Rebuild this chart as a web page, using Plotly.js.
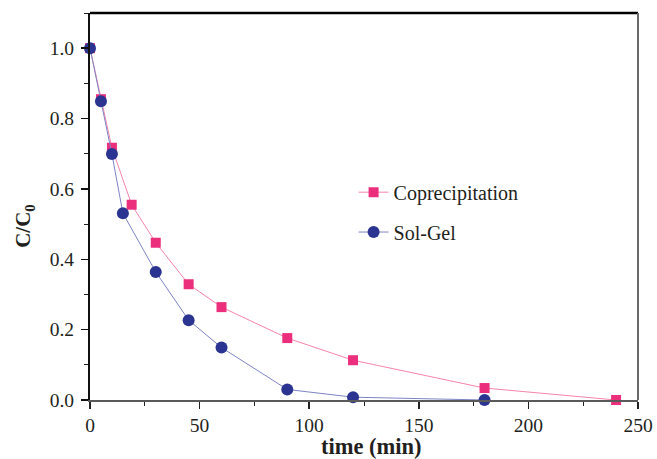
<!DOCTYPE html>
<html>
<head>
<meta charset="utf-8">
<script src="https://cdn.plot.ly/plotly-3.0.1.min.js"></script>
<style>html,body{margin:0;padding:0;background:#fff}#chart{width:657px;height:459px}</style>
</head>
<body>
<div id="chart"></div>
<script>
// Data
var coprecipTime = [0, 5, 10, 19, 30, 45, 60, 90, 120, 180, 240];
var coprecipC = [1.0, 0.855, 0.717, 0.555, 0.447, 0.329, 0.264, 0.176, 0.113, 0.034, 0.0];
var solgelTime = [0, 5, 10, 15, 30, 45, 60, 90, 120, 180];
var solgelC = [1.0, 0.849, 0.699, 0.531, 0.364, 0.227, 0.149, 0.030, 0.008, 0.0];
var seriesNames = ["Coprecipitation", "Sol-Gel"];
var yTickVals = [0, 0.2, 0.4, 0.6, 0.8, 1.0];
var xTickVals = [0, 50, 100, 150, 200, 250];
var xTitle = "time (min)";
var yTitle = "C/C<sub>0</sub>";

var fontFam = "Liberation Serif, Times New Roman, serif";
var textCol = "#231f20";

var traces = [
  {
    x: coprecipTime, y: coprecipC, name: seriesNames[0], mode: "lines+markers",
    type: "scatter", cliponaxis: false, legend: "legend",
    line: {color: "#f584ad", width: 1},
    marker: {symbol: "square", size: 10, color: "#ec2f7d"}
  },
  {
    x: solgelTime, y: solgelC, name: seriesNames[1], mode: "lines+markers",
    type: "scatter", cliponaxis: false, legend: "legend2",
    line: {color: "#7e84c4", width: 1},
    marker: {symbol: "circle", size: 12, color: "#2b3591"}
  }
];

var layout = {
  width: 657, height: 459,
  margin: {l: 90, r: 19, t: 13, b: 59},
  paper_bgcolor: "#fff", plot_bgcolor: "#fff",
  font: {family: fontFam, color: textCol, size: 19},
  showlegend: true,
  xaxis: {
    range: [0, 250], tickvals: xTickVals, ticktext: xTickVals.map(String),
    showgrid: false, zeroline: false,
    showline: true, linecolor: "#5a5a5a", linewidth: 2,
    ticks: "outside", ticklen: 7, tickwidth: 1.5, tickcolor: "#222",
    minor: {dtick: 25, tick0: 0, ticks: "outside", ticklen: 4, tickcolor: "#222", tickwidth: 1},
    tickfont: {family: fontFam, size: 19.5, color: textCol}
  },
  yaxis: {
    range: [0, 1.1], tickvals: yTickVals, ticktext: yTickVals.map(function(v){return v.toFixed(1);}),
    showgrid: false, zeroline: false,
    showline: true, linecolor: "#111", linewidth: 2,
    ticks: "outside", ticklen: 7, tickwidth: 1.5, tickcolor: "#111",
    ticklabelstandoff: 3,
    minor: {dtick: 0.1, tick0: 0, ticks: "outside", ticklen: 4, tickcolor: "#222", tickwidth: 1},
    tickfont: {family: fontFam, size: 19.5, color: textCol}
  },
  annotations: [
    {text: "<b>" + xTitle + "</b>", xref: "paper", yref: "paper", x: 0.5137, y: -0.119,
     xanchor: "center", yanchor: "middle", showarrow: false,
     font: {family: fontFam, size: 22.5, color: textCol}},
    {text: "<b>" + yTitle + "</b>", xref: "paper", yref: "paper", x: -0.1204, y: 0.45,
     xanchor: "center", yanchor: "middle", showarrow: false, textangle: -90,
     font: {family: fontFam, size: 21, color: textCol}}
  ],
  shapes: [
    {type: "line", xref: "paper", yref: "paper", x0: 0, x1: 1, y0: 1, y1: 1, line: {color: "#000", width: 2.5}},
    {type: "line", xref: "paper", yref: "paper", x0: 1, x1: 1, y0: 0, y1: 1, line: {color: "#6a6a6a", width: 2}}
  ],
  legend: {
    x: 0.481, y: 0.537, xanchor: "left", yanchor: "middle",
    bgcolor: "rgba(0,0,0,0)", borderwidth: 0,
    font: {family: fontFam, size: 20, color: textCol}
  },
  legend2: {
    x: 0.481, y: 0.434, xanchor: "left", yanchor: "middle",
    bgcolor: "rgba(0,0,0,0)", borderwidth: 0,
    font: {family: fontFam, size: 20, color: textCol}
  }
};

Plotly.newPlot("chart", traces, layout, {displayModeBar: false, staticPlot: true});
</script>
</body>
</html>
